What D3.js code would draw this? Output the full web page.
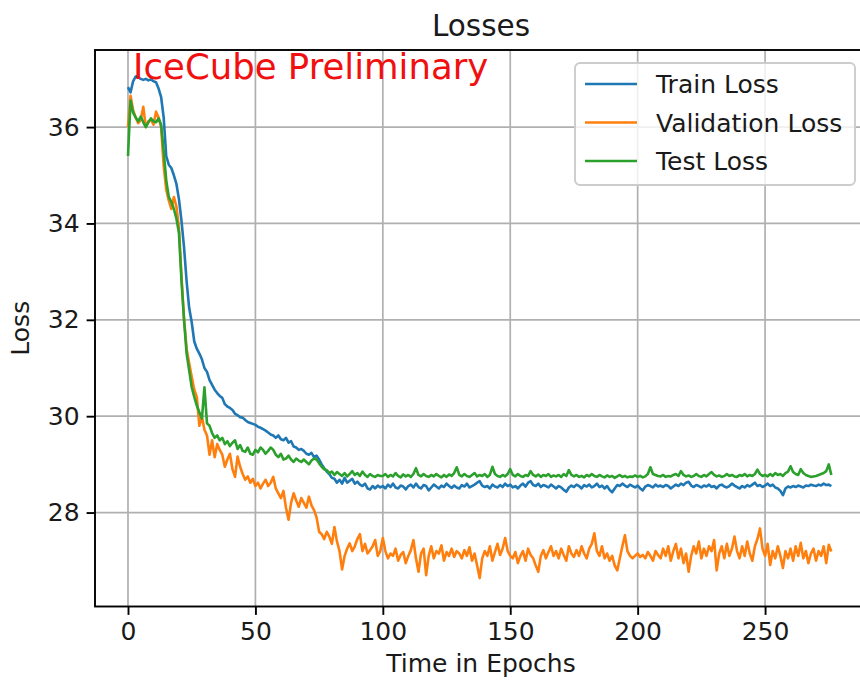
<!DOCTYPE html>
<html>
<head>
<meta charset="utf-8">
<title>Losses</title>
<script src="https://d3js.org/d3.v7.min.js"></script>
<style>
  body { margin: 0; background: #fff; }
  svg text { font-family: "DejaVu Sans", sans-serif; }
</style>
</head>
<body>
<script>
// loss per epoch, index = epoch
const trainLoss = [
  36.83, 36.72, 36.95, 37.05, 37.04, 37.0, 36.98, 37.0, 36.97, 36.99,
  36.95, 36.93, 36.8, 36.62, 36.2, 35.4, 35.22, 35.15, 35.0, 34.82,
  34.5, 34.05, 33.5, 32.8, 32.25, 31.95, 31.55, 31.4, 31.3, 31.18,
  31.0, 30.92, 30.75, 30.65, 30.55, 30.48, 30.42, 30.38, 30.25, 30.2,
  30.17, 30.13, 30.05, 30.02, 29.98, 29.97, 29.92, 29.88, 29.86, 29.84,
  29.82, 29.78, 29.76, 29.73, 29.7, 29.66, 29.62, 29.6, 29.55, 29.6,
  29.52, 29.5, 29.55, 29.45, 29.48, 29.37, 29.35, 29.3, 29.32, 29.28,
  29.22, 29.2, 29.24, 29.15, 29.18, 29.1, 29.0, 28.92, 28.85, 28.8,
  28.72, 28.7, 28.62, 28.68, 28.6, 28.72, 28.62, 28.66, 28.7, 28.6,
  28.64, 28.58, 28.55, 28.6, 28.5, 28.48, 28.55, 28.5, 28.56, 28.52,
  28.55, 28.5, 28.58, 28.53, 28.6, 28.52, 28.5, 28.56, 28.54, 28.48,
  28.55, 28.58, 28.52, 28.6, 28.53, 28.5, 28.57, 28.55, 28.46, 28.52,
  28.58, 28.54, 28.5, 28.56, 28.53, 28.6, 28.55, 28.51, 28.56, 28.52,
  28.5, 28.57, 28.54, 28.6, 28.52, 28.55, 28.58, 28.62, 28.65, 28.56,
  28.53, 28.55, 28.5, 28.58, 28.54, 28.52, 28.57, 28.53, 28.6, 28.55,
  28.58, 28.52, 28.55, 28.5, 28.56, 28.6, 28.54, 28.62, 28.65, 28.57,
  28.55, 28.6, 28.53, 28.57, 28.55, 28.52, 28.58, 28.54, 28.5, 28.55,
  28.52, 28.47, 28.43, 28.52, 28.56, 28.53, 28.58, 28.55, 28.5, 28.57,
  28.54, 28.58, 28.52, 28.55, 28.6, 28.53, 28.56, 28.5, 28.55, 28.47,
  28.42, 28.5, 28.57, 28.55, 28.6, 28.56, 28.53, 28.58, 28.55, 28.52,
  28.56, 28.5, 28.46, 28.54, 28.57, 28.55, 28.52, 28.58, 28.54, 28.56,
  28.53, 28.57, 28.55, 28.5, 28.54, 28.58, 28.55, 28.6, 28.57, 28.62,
  28.64, 28.56, 28.53, 28.57, 28.55, 28.52, 28.56, 28.54, 28.58, 28.53,
  28.55, 28.5, 28.56, 28.58, 28.54, 28.52, 28.55, 28.6, 28.56, 28.53,
  28.5, 28.55, 28.52, 28.57, 28.54, 28.58, 28.62, 28.55, 28.57, 28.53,
  28.56, 28.6, 28.55, 28.58, 28.52, 28.5, 28.45, 28.36, 28.5, 28.54,
  28.52, 28.55, 28.53, 28.56, 28.54, 28.52, 28.56, 28.55, 28.58, 28.56,
  28.55, 28.58, 28.56, 28.6, 28.57, 28.58, 28.55
];
const validLoss = [
  36.0, 36.65, 36.35, 36.2, 36.08, 36.15, 36.42, 36.0, 36.12, 36.15,
  36.05, 36.32, 36.2, 36.0, 35.2, 34.7, 34.48, 34.3, 34.55, 34.35,
  33.9, 32.9, 32.0, 31.4, 31.1, 30.82, 30.55, 30.4, 29.8, 29.99,
  29.72, 29.6, 29.2, 29.5, 29.15, 29.42, 29.3, 29.2, 28.95, 29.1,
  29.22, 28.9, 28.74, 29.16, 28.95, 28.8, 28.68, 28.75, 28.62, 28.7,
  28.55, 28.62, 28.5, 28.6, 28.68, 28.55, 28.62, 28.74, 28.5, 28.4,
  28.3, 28.45, 28.1, 27.85, 28.2, 28.4, 28.25, 28.12, 28.3, 28.2,
  28.1, 28.33, 28.15, 28.05, 27.9, 27.6, 27.55, 27.45, 27.6, 27.5,
  27.35, 27.7, 27.4, 27.2, 26.82, 27.1, 27.25, 27.36, 27.2, 27.3,
  27.45, 27.55, 27.2, 27.35, 27.15, 27.22, 27.3, 27.43, 27.1, 27.2,
  27.47, 27.2, 27.05, 27.15, 27.1, 27.25, 27.0, 27.12, 27.18, 26.95,
  27.1, 27.22, 27.43, 27.05, 26.77, 27.15, 27.25, 26.7, 27.1, 27.3,
  27.05, 27.2, 27.15, 27.32, 27.0, 27.18, 27.1, 27.25, 27.08, 27.2,
  27.15, 27.05, 27.22, 27.1, 27.28, 27.0, 27.15, 26.9, 26.64, 27.05,
  27.2, 27.1, 27.3, 27.0, 27.18, 27.35, 27.12, 27.25, 27.47, 27.2,
  27.1, 27.05, 27.18, 26.95, 27.1, 27.2, 27.0, 27.25, 27.12, 27.05,
  26.9, 26.77, 27.1, 27.22, 27.05, 27.18, 27.3, 27.1, 27.2, 27.05,
  27.25, 27.12, 27.0, 27.3, 27.15, 27.08, 27.22, 27.1, 27.3, 27.15,
  27.05, 27.25, 27.35, 27.57, 27.2, 27.1, 27.3, 27.05, 27.15, 27.0,
  27.1, 26.9, 26.8, 27.05, 27.3, 27.53, 27.2, 27.1, 27.05, 27.1,
  27.15, 27.08, 27.12, 27.05, 27.18, 27.1, 27.0, 27.2, 27.12, 27.05,
  27.25, 27.1, 27.3, 27.0, 27.2, 27.35, 27.05, 27.25, 26.95, 27.15,
  26.77, 27.1, 27.3, 27.15, 27.4, 27.05, 27.25, 27.1, 27.3, 27.2,
  27.43, 26.8, 27.15, 27.3, 27.05, 27.35, 27.1, 27.25, 27.5, 27.2,
  27.05, 27.3, 27.1, 27.4, 27.15, 27.0, 27.3, 27.45, 27.67, 27.25,
  27.1, 27.35, 26.91, 27.2, 27.05, 27.3, 27.1, 26.85, 27.2, 27.05,
  27.25, 27.0, 27.3, 27.1, 27.37, 27.05, 27.2, 26.95, 27.15, 27.25,
  27.0, 27.2, 27.1, 27.3, 26.95, 27.33, 27.19
];
const testLoss = [
  35.4, 36.55, 36.3, 36.2, 36.12, 36.22, 36.1, 36.0, 36.1, 36.18,
  36.12, 36.1, 36.18, 36.05, 35.5, 34.9, 34.55, 34.45, 34.3, 34.1,
  33.8, 32.8, 32.0, 31.3, 30.95, 30.6, 30.4, 30.22, 30.08, 29.95,
  30.6, 29.85, 29.8, 29.65, 29.55, 29.6, 29.5, 29.55, 29.42, 29.48,
  29.38, 29.45, 29.5, 29.32, 29.4, 29.28, 29.26, 29.35, 29.22, 29.2,
  29.3, 29.25, 29.35, 29.3, 29.22, 29.28, 29.35, 29.3, 29.2, 29.15,
  29.22, 29.1, 29.12, 29.18, 29.1, 29.05, 29.12, 29.08, 29.05, 29.1,
  29.05, 29.0, 29.08, 29.12, 29.1, 29.02, 28.95, 28.9, 28.88, 28.82,
  28.85, 28.78, 28.84, 28.8, 28.76, 28.82, 28.75, 28.8, 28.86, 28.78,
  28.82, 28.76, 28.85, 28.78, 28.74, 28.8, 28.76, 28.74, 28.78, 28.76,
  28.76, 28.8, 28.74, 28.78, 28.75, 28.82, 28.76, 28.73, 28.79, 28.75,
  28.78, 28.74, 28.8, 28.92, 28.78, 28.75, 28.8, 28.76, 28.74, 28.78,
  28.75, 28.8, 28.76, 28.73, 28.78, 28.74, 28.79, 28.76, 28.82, 28.94,
  28.78, 28.75, 28.8, 28.76, 28.74, 28.78, 28.82, 28.75, 28.78, 28.76,
  28.8, 28.74, 28.78, 28.95, 28.8, 28.76, 28.74, 28.78, 28.75, 28.8,
  28.9, 28.78, 28.75, 28.8, 28.76, 28.74, 28.78, 28.76, 28.86, 28.78,
  28.75, 28.79, 28.74, 28.78, 28.76, 28.8, 28.74, 28.77, 28.75, 28.78,
  28.74, 28.8, 28.76, 28.88, 28.78, 28.75, 28.78, 28.74, 28.76, 28.73,
  28.78, 28.75, 28.8, 28.76, 28.74, 28.78, 28.75, 28.73, 28.77, 28.74,
  28.76, 28.72, 28.75, 28.78, 28.74, 28.76, 28.73, 28.75, 28.74, 28.77,
  28.74, 28.76, 28.73, 28.75, 28.8, 28.94, 28.8, 28.78, 28.76, 28.75,
  28.78, 28.74, 28.76, 28.75, 28.78, 28.8, 28.76, 28.86, 28.78, 28.75,
  28.77, 28.74, 28.76, 28.8, 28.76, 28.74, 28.78, 28.75, 28.8, 28.84,
  28.78, 28.75, 28.77, 28.74, 28.76, 28.8, 28.76, 28.78, 28.75, 28.74,
  28.78, 28.76, 28.8, 28.75, 28.78, 28.76, 28.8, 28.89, 28.8, 28.76,
  28.78, 28.75, 28.8, 28.76, 28.82, 28.78, 28.8, 28.76, 28.82, 28.85,
  28.96, 28.84, 28.8, 28.78, 28.9, 28.82, 28.78, 28.76, 28.74, 28.75,
  28.76, 28.78, 28.8, 28.82, 28.86, 29.0, 28.78
];
const seriesNames = ["Train Loss", "Validation Loss", "Test Loss"];
const seriesColors = ["#1f77b4", "#ff7f0e", "#2ca02c"];
const xTicks = [0, 50, 100, 150, 200, 250];
const yTicks = [28, 30, 32, 34, 36];

const W = 860, H = 684;
const box = { left: 95, right: 867, top: 50, bottom: 606.5 };
const fs = 25; // base font size

const svg = d3.select("body").append("svg")
  .attr("width", W).attr("height", H);

const x = d3.scaleLinear().domain([-12.95, 290]).range([box.left, box.right]);
const y = d3.scaleLinear().domain([26.05, 37.6]).range([box.bottom, box.top]);

// grid
const grid = svg.append("g").attr("stroke", "#b0b0b0").attr("stroke-width", 1.7);
grid.selectAll(".gx").data(xTicks).join("line")
  .attr("x1", d => x(d)).attr("x2", d => x(d))
  .attr("y1", box.top).attr("y2", box.bottom);
grid.selectAll(".gy").data(yTicks).join("line")
  .attr("x1", box.left).attr("x2", box.right)
  .attr("y1", d => y(d)).attr("y2", d => y(d));

// loss curves
const line = d3.line().x((d, i) => x(i)).y(d => y(d));
[trainLoss, validLoss, testLoss].forEach((s, k) => {
  svg.append("path").datum(s)
    .attr("d", line)
    .attr("fill", "none")
    .attr("stroke", seriesColors[k])
    .attr("stroke-width", 2.6)
    .attr("stroke-linejoin", "round");
});

// axes
const xAxis = svg.append("g")
  .attr("transform", `translate(0,${box.bottom})`)
  .call(d3.axisBottom(x).tickValues(xTicks).tickSize(8.4).tickPadding(7).tickSizeOuter(0));
const yAxis = svg.append("g")
  .attr("transform", `translate(${box.left},0)`)
  .call(d3.axisLeft(y).tickValues(yTicks).tickSize(8.4).tickPadding(7).tickSizeOuter(0));
[xAxis, yAxis].forEach(a => {
  a.select(".domain").remove();
  a.selectAll(".tick line").attr("stroke", "#000").attr("stroke-width", 1.9);
  a.selectAll(".tick text")
    .attr("fill", "#1a1a1a")
    .style("font-size", fs + "px")
    .style("font-family", "DejaVu Sans");
});

// spines
svg.append("rect")
  .attr("x", box.left).attr("y", box.top)
  .attr("width", box.right - box.left).attr("height", box.bottom - box.top)
  .attr("fill", "none").attr("stroke", "#000").attr("stroke-width", 1.9);

// titles
svg.append("text")
  .attr("x", (box.left + box.right) / 2).attr("y", 36)
  .attr("text-anchor", "middle")
  .style("font-size", "29.5px").attr("fill", "#1a1a1a")
  .text("Losses");
svg.append("text")
  .attr("x", (box.left + box.right) / 2).attr("y", 672)
  .attr("text-anchor", "middle")
  .style("font-size", fs + "px").attr("fill", "#1a1a1a")
  .text("Time in Epochs");
svg.append("text")
  .attr("transform", `translate(29,${(box.top + box.bottom) / 2}) rotate(-90)`)
  .attr("text-anchor", "middle")
  .style("font-size", fs + "px").attr("fill", "#1a1a1a")
  .text("Loss");

// preliminary stamp
svg.append("text")
  .attr("x", x(2)).attr("y", y(37))
  .style("font-size", "35.5px").attr("fill", "#f01010")
  .text("IceCube Preliminary");

// legend
const lg = svg.append("g").attr("transform", "translate(575,63)");
lg.append("rect")
  .attr("width", 280).attr("height", 122).attr("rx", 5)
  .attr("fill", "#fff").attr("fill-opacity", 0.8)
  .attr("stroke", "#cccccc").attr("stroke-width", 1.9);
seriesNames.forEach((name, i) => {
  const cy = 21 + i * 38.5;
  lg.append("line")
    .attr("x1", 10).attr("x2", 62).attr("y1", cy).attr("y2", cy)
    .attr("stroke", seriesColors[i]).attr("stroke-width", 2.6);
  lg.append("text")
    .attr("x", 81).attr("y", cy + 9)
    .style("font-size", fs + "px").attr("fill", "#1a1a1a")
    .text(name);
});
</script>
</body>
</html>
